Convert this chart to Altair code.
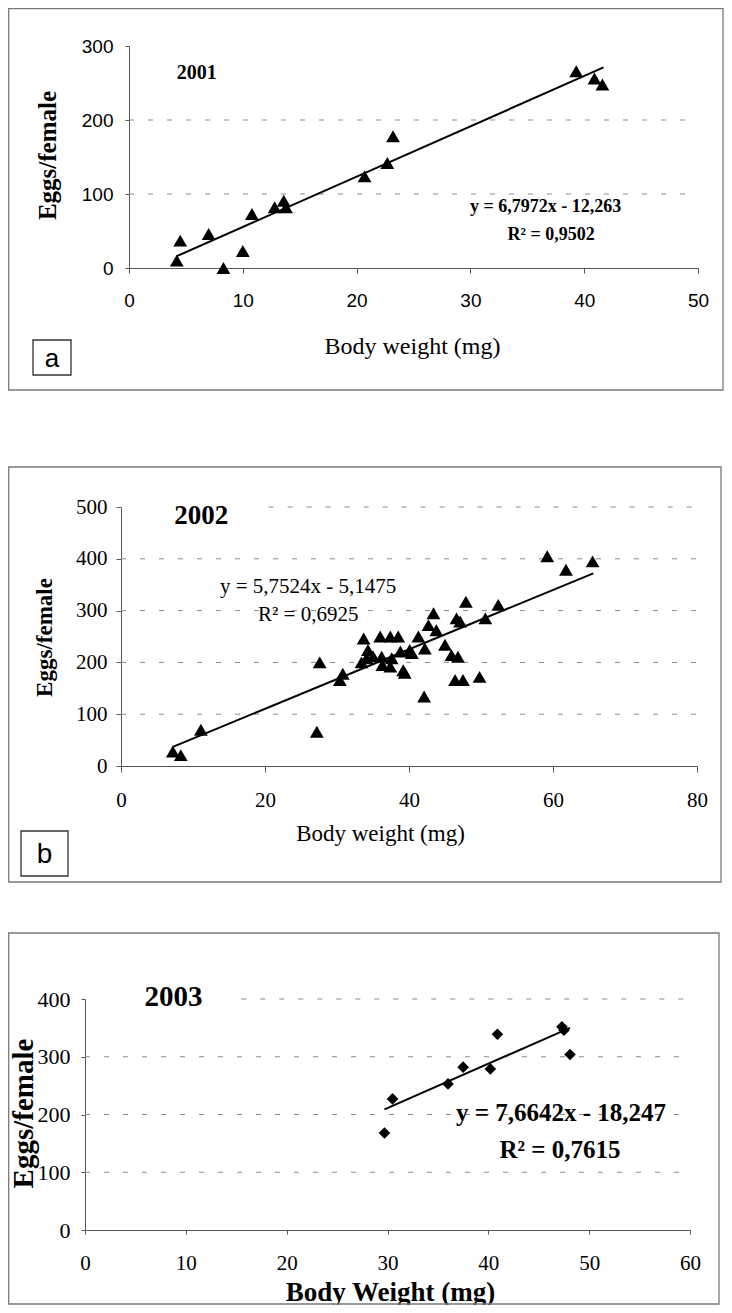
import altair as alt
import pandas as pd

# ---------- Panel a : 2001 ----------
a_x = [4.2, 4.5, 7.0, 8.3, 10.0, 10.8, 12.8, 13.6, 13.8, 20.7, 22.7, 23.2, 39.3, 40.9, 41.6]
a_y = [10, 37, 46, 0, 23, 73, 82, 91, 82, 124, 142, 178, 266, 256, 248]
a_trend_x = [4.2, 41.7]
a_trend_y = [16, 271]
a_grid = [100, 200]
a_grid_start = [0, 0]
a_xticks = [0, 10, 20, 30, 40, 50]
a_yticks = [0, 100, 200, 300]

# ---------- Panel b : 2002 ----------
b_x = [7.2, 8.3, 11.1, 27.2, 27.6, 30.4, 30.8, 33.4, 33.7, 34.1, 34.3, 35.0, 36.0, 36.2,
       36.3, 37.4, 37.4, 37.6, 38.5, 38.8, 39.2, 39.4, 40.1, 40.4, 41.3, 42.1, 42.2, 42.7,
       43.4, 43.8, 45.0, 45.9, 46.6, 46.8, 46.4, 47.1, 47.5, 47.9, 49.8, 50.6, 52.4, 59.2,
       61.8, 65.5]
b_y = [28, 21, 70, 66, 200, 166, 178, 200, 246, 208, 224, 212, 250, 211,
       195, 250, 192, 208, 250, 221, 185, 180, 224, 218, 250, 134, 227, 272,
       295, 262, 234, 214, 285, 211, 166, 279, 166, 317, 172, 285, 311, 405,
       379, 395]
b_trend_x = [7.2, 65.6]
b_trend_y = [37, 372]
b_grid = [100, 200, 300, 400, 500]
b_grid_start = [0, 0, 0, 0, 20.5]
b_xticks = [0, 20, 40, 60, 80]
b_yticks = [0, 100, 200, 300, 400, 500]

# ---------- Panel c : 2003 ----------
c_x = [29.7, 30.5, 36.0, 37.5, 40.2, 40.9, 47.3, 47.5, 48.1]
c_y = [168, 227, 253, 282, 279, 339, 352, 346, 304]
c_trend_x = [29.7, 48.1]
c_trend_y = [209, 350]
c_grid = [100, 200, 300, 400]
c_grid_start = [0, 0, 0, 15.5]
c_xticks = [0, 10, 20, 30, 40, 50, 60]
c_yticks = [0, 100, 200, 300, 400]

SERIF = "Liberation Serif"
SANS = "Liberation Sans"
W, H = 716, 1297


def panel(px, py, tx, ty, grid, gstart, xticks, yticks, cfg):
    x0, x1 = cfg["xrange"]
    y0, y1 = cfg["yrange"]
    xs = alt.Scale(domain=[xticks[0], xticks[-1]], range=[x0, x1], nice=False, zero=False)
    ys = alt.Scale(domain=[yticks[0], yticks[-1]], range=[y0, y1], nice=False, zero=False)

    xaxis = alt.Axis(orient="bottom", offset=-(H - y0), values=xticks, grid=False,
                     domainColor="#555", tickColor="#555",
                     tickSize=cfg["xtick"], labelFont=cfg["tickfont"], labelFontSize=cfg["xlabsize"],
                     labelColor="black", labelPadding=cfg["xlabpad"], labelFlush=False,
                     labelOverlap=False, title=cfg["xtitle"], titleFont=SERIF,
                     titleFontSize=cfg["xtitlesize"], titleFontWeight=cfg["xtitleweight"],
                     titleColor="black", titleY=cfg["xtitley"], titleX=cfg["xtitlex"],
                     titleBaseline="middle", titleAlign="center")
    yaxis = alt.Axis(orient="left", offset=-x0, values=yticks, grid=False,
                     domainColor="#555", tickColor="#555",
                     tickSize=cfg["ytick"], labelFont=cfg["tickfont"], labelFontSize=cfg["ylabsize"],
                     labelColor="black", labelPadding=cfg["ylabpad"], labelOverlap=False,
                     title="Eggs/female", titleFont=SERIF, titleFontSize=cfg["ytitlesize"],
                     titleFontWeight="bold", titleColor="black", titleX=cfg["ytitlex"],
                     titleY=cfg["ytitley"], titleAlign="center", titleBaseline="middle",
                     titleAngle=270)

    layers = []

    gdf = pd.DataFrame({"y": grid, "gx0": gstart, "gx1": [xticks[-1]] * len(grid)})
    layers.append(alt.Chart(gdf).mark_rule(
        color="#8a8a8a", strokeWidth=1, strokeDash=[5, 14]).encode(
        x=alt.X("gx0:Q", scale=xs, axis=None), x2="gx1:Q",
        y=alt.Y("y:Q", scale=ys, axis=None)))

    layers.append(alt.Chart(pd.DataFrame({"x": tx, "y": ty})).mark_line(
        color="black", strokeWidth=2).encode(
        x=alt.X("x:Q", scale=xs, axis=None), y=alt.Y("y:Q", scale=ys, axis=None)))

    layers.append(alt.Chart(pd.DataFrame({"x": px, "y": py})).mark_point(
        shape=cfg["shape"], size=cfg["size"], filled=True, color="black", opacity=1).encode(
        x=alt.X("x:Q", scale=xs, axis=xaxis), y=alt.Y("y:Q", scale=ys, axis=yaxis)))

    for t in cfg["texts"]:
        tdf = pd.DataFrame({"x": [t["x"]], "y": [t["y"]], "t": [t["text"]]})
        layers.append(alt.Chart(tdf).mark_text(
            font=SERIF, fontSize=t["size"], fontWeight=t["weight"], align=t["align"],
            baseline="middle", color="black").encode(
            x=alt.X("x:Q", scale=xs, axis=None), y=alt.Y("y:Q", scale=ys, axis=None),
            text="t:N"))

    fr = cfg["frame"]
    one = pd.DataFrame({"k": [0]})
    layers.append(alt.Chart(one).mark_rect(
        fill="transparent", stroke="#7a7a7a", strokeWidth=1.3).encode(
        x=alt.value(fr[0]), x2=alt.value(fr[1]), y=alt.value(fr[2]), y2=alt.value(fr[3])))

    if cfg.get("letter"):
        lb = cfg["letter"]
        layers.append(alt.Chart(one).mark_rect(
            fill="white", stroke="#333", strokeWidth=1.3).encode(
            x=alt.value(lb["x1"]), x2=alt.value(lb["x2"]), y=alt.value(lb["y1"]),
            y2=alt.value(lb["y2"])))
        layers.append(alt.Chart(pd.DataFrame({"t": [lb["text"]]})).mark_text(
            font=SANS, fontSize=lb["size"], align="center", baseline="middle",
            color="black").encode(
            x=alt.value((lb["x1"] + lb["x2"]) / 2), y=alt.value((lb["y1"] + lb["y2"]) / 2 + 1),
            text="t:N"))
    return layers


cfg_a = dict(
    xrange=(121, 690), yrange=(260, 38),
    tickfont=SANS, xlabsize=19, ylabsize=19, xtick=5, ytick=4, xlabpad=18, ylabpad=12,
    xtitle="Body weight (mg)", xtitlesize=24, xtitleweight="normal", xtitley=78, xtitlex=404,
    ytitlesize=25, ytitlex=-82, ytitley=147, shape="triangle-up", size=190,
    texts=[
        dict(x=4.2, y=263, text="2001", size=20, weight="bold", align="left"),
        dict(x=36.6, y=82, text="y = 6,7972x - 12,263", size=18, weight="bold", align="center"),
        dict(x=37.1, y=45, text="R² = 0,9502", size=18, weight="bold", align="center"),
    ],
    frame=(0.7, 715, 0.7, 382),
    letter=dict(x1=25, x2=63, y1=332, y2=367, text="a", size=26),
)

cfg_b = dict(
    xrange=(113, 689), yrange=(758, 499),
    tickfont=SERIF, xlabsize=21, ylabsize=21, xtick=6, ytick=5, xlabpad=17, ylabpad=9,
    xtitle="Body weight (mg)", xtitlesize=23, xtitleweight="normal", xtitley=67, xtitlex=372,
    ytitlesize=23, ytitlex=-77, ytitley=629, shape="triangle-up", size=190,
    texts=[
        dict(x=7.4, y=483, text="2002", size=27, weight="bold", align="left"),
        dict(x=26.0, y=346, text="y = 5,7524x - 5,1475", size=21, weight="normal", align="center"),
        dict(x=26.0, y=291, text="R² = 0,6925", size=21, weight="normal", align="center"),
    ],
    frame=(0.7, 713, 459, 874),
    letter=dict(x1=13, x2=60, y1=823, y2=868, text="b", size=28),
)

cfg_c = dict(
    xrange=(77, 682), yrange=(1222, 991),
    tickfont=SERIF, xlabsize=21, ylabsize=22, xtick=4, ytick=4, xlabpad=18, ylabpad=11,
    xtitle="Body Weight (mg)", xtitlesize=27, xtitleweight="bold", xtitley=62, xtitlex=382,
    ytitlesize=29, ytitlex=-62, ytitley=1105, shape="diamond", size=135,
    texts=[
        dict(x=5.9, y=403, text="2003", size=29, weight="bold", align="left"),
        dict(x=47.2, y=203, text="y = 7,6642x - 18,247", size=25, weight="bold", align="center"),
        dict(x=47.1, y=139, text="R² = 0,7615", size=25, weight="bold", align="center"),
    ],
    frame=(0.7, 711, 925, 1296),
)

layers = (panel(a_x, a_y, a_trend_x, a_trend_y, a_grid, a_grid_start, a_xticks, a_yticks, cfg_a)
          + panel(b_x, b_y, b_trend_x, b_trend_y, b_grid, b_grid_start, b_xticks, b_yticks, cfg_b)
          + panel(c_x, c_y, c_trend_x, c_trend_y, c_grid, c_grid_start, c_xticks, c_yticks, cfg_c))

chart = alt.layer(*layers).resolve_scale(x="independent", y="independent").properties(
    width=W, height=H, padding=0, background="white").configure_view(stroke=None)

chart.save("out.html", embed_options={"renderer": "svg", "actions": False})
